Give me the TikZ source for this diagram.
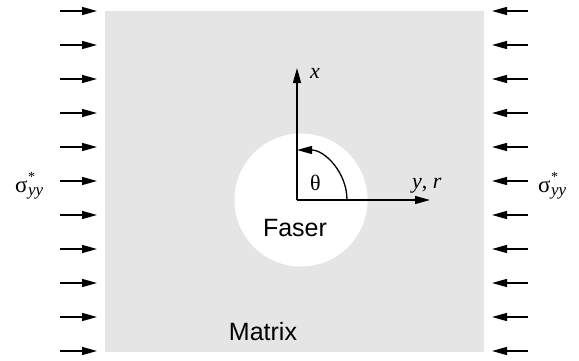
\documentclass[tikz,border=0pt]{standalone}
\usepackage{fontspec}
\setmainfont{Liberation Serif}
\newfontfamily\sansf{Liberation Sans}
\usetikzlibrary{arrows.meta}
\definecolor{matgray}{RGB}{229,229,229}
\newcommand{\sigstar}{\fontsize{23}{23}\selectfont σ\kern0.5pt\rlap{\raisebox{11pt}{\fontsize{14}{14}\selectfont *}}\raisebox{-3pt}{\fontsize{17}{17}\selectfont\itshape yy}}
\tikzset{
  load/.style={line width=1.4pt,-{Triangle[length=15pt,width=8pt]}},
  axisline/.style={line width=1.3pt,-{Triangle[length=15pt,width=8pt]}},
  sanslabel/.style={font=\sansf\fontsize{25}{25}\selectfont,inner sep=0pt},
  seriflabel/.style={font=\fontsize{22}{22}\selectfont,inner sep=0pt,anchor=base west}
}
\begin{document}
\begin{tikzpicture}[x=1pt,y=1pt]
\useasboundingbox (0,0) rectangle (579,360);
% matrix
\fill[matgray] (105,8) rectangle (484,349);
% fibre
\fill[white] (301,160) circle[radius=66.5];
% loads
\foreach \k in {0,...,10}{
  \coordinate (la\k) at (60,{349-34*\k});
  \coordinate (lb\k) at (97,{349-34*\k});
  \draw[load] (la\k) -- (lb\k);
  \coordinate (ra\k) at (528,{349-34*\k});
  \coordinate (rb\k) at (492,{349-34*\k});
  \draw[load] (ra\k) -- (rb\k);
}
% axes
\coordinate (O) at (297,160);
\coordinate (xt) at (297,292);
\coordinate (yt) at (430,160);
\coordinate (as) at (347,160);
\draw[axisline] (O) -- (xt);
\draw[axisline] (O) -- (yt);
\draw[axisline] (as) arc[start angle=0,end angle=90,radius=50];
% labels
\node[seriflabel] (xl) at (310,282) {\itshape x};
\node[seriflabel] (th) at (310,170) {θ};
\node[seriflabel] (yl) at (412,172) {\itshape y\upshape, \itshape r};
\node[sanslabel] (faser) at (295,132) {Faser};
\node[sanslabel] (matrix) at (263,28) {Matrix};
\node[inner sep=0pt,anchor=base west] (sl) at (15,168) {\sigstar};
\node[inner sep=0pt,anchor=base west] (sr) at (538,168) {\sigstar};
\end{tikzpicture}
\end{document}
